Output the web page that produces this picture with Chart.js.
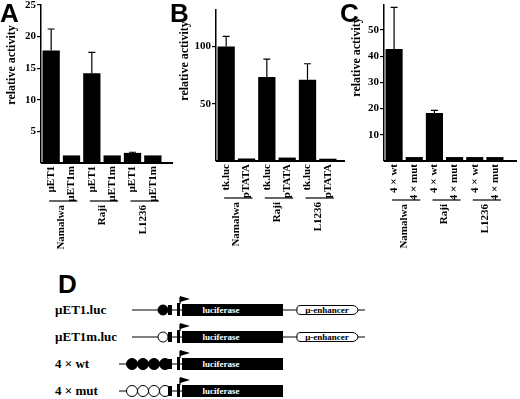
<!DOCTYPE html>
<html>
<head>
<meta charset="utf-8">
<script src="https://cdn.jsdelivr.net/npm/chart.js@4.4.0/dist/chart.umd.min.js"></script>
<style>
  body { margin: 0; background: #fff; }
  #wrap { position: relative; width: 520px; height: 399px; overflow: hidden; }
  canvas, svg { position: absolute; top: 0; }
</style>
</head>
<body>
<div id="wrap">
  <svg id="schema" width="520" height="399" style="left:0"></svg>
  <canvas id="chartA" width="175" height="250" style="left:0"></canvas>
  <canvas id="chartB" width="175" height="250" style="left:170px"></canvas>
  <canvas id="chartC" width="180" height="250" style="left:340px"></canvas>
</div>
<script>
// --- data ---
const cellLines = ['Namalwa', 'Raji', 'L1236'];

const labelsA = ['µET1', 'µET1m', 'µET1', 'µET1m', 'µET1', 'µET1m'];
const valuesA = [17.8, 1.2, 14.2, 1.2, 1.6, 1.2];
const errorsA = [21.2, null, 17.5, null, 1.7, null];
const ticksA = [5, 10, 15, 20, 25];

const labelsB = ['tk.luc', 'pTATA', 'tk.luc', 'pTATA', 'tk.luc', 'pTATA'];
const valuesB = [100, 2.2, 73.5, 3, 71, 2];
const errorsB = [109, null, 89, null, 85, null];
const ticksB = [50, 100];

const labelsC = ['4 × wt', '4 × mut', '4 × wt', '4 × mut', '4 × wt', '4 × mut'];
const valuesC = [42.7, 1.5, 18.3, 1.5, 1.5, 1.5];
const errorsC = [58.6, null, 19.3, null, null, null];
const ticksC = [10, 20, 30, 40, 50];

const constructs = ['µET1.luc', 'µET1m.luc', '4 × wt', '4 × mut'];

const serif = "'Liberation Serif', 'Times New Roman', serif";
const sans = "'Liberation Sans', Arial, sans-serif";

Chart.defaults.font.family = serif;
Chart.defaults.font.weight = 'bold';
Chart.defaults.font.size = 11;
Chart.defaults.color = '#000';

// error bars, baseline, cell line brackets, panel letter, axis title
function makeDecor(cfg) {
  return {
    id: 'decor',
    afterDatasetsDraw(chart) {
      const ctx = chart.ctx;
      const meta = chart.getDatasetMeta(0);
      const y = chart.scales.y;
      const area = chart.chartArea;
      ctx.save();
      ctx.strokeStyle = '#000';
      ctx.fillStyle = '#000';

      ctx.lineWidth = 1.2;
      cfg.errors.forEach((e, i) => {
        if (e == null) return;
        const bar = meta.data[i];
        const yTop = y.getPixelForValue(e);
        ctx.beginPath();
        ctx.moveTo(bar.x, bar.y);
        ctx.lineTo(bar.x, yTop);
        ctx.moveTo(bar.x - 3.5, yTop);
        ctx.lineTo(bar.x + 3.5, yTop);
        ctx.stroke();
      });

      const y0 = y.getPixelForValue(0);
      ctx.lineWidth = 2;
      ctx.beginPath();
      ctx.moveTo(area.left, y0);
      ctx.lineTo(area.right + cfg.baseExtra, y0);
      ctx.stroke();

      ctx.lineWidth = 1.2;
      ctx.font = `bold 11px ${serif}`;
      cellLines.forEach((name, g) => {
        const x0 = meta.data[g * 2].x - 2;
        const x1 = meta.data[g * 2 + 1].x + 6;
        ctx.beginPath();
        ctx.moveTo(x0, cfg.groupY);
        ctx.lineTo(x1, cfg.groupY);
        ctx.stroke();
        ctx.save();
        ctx.translate((x0 + x1) / 2 - 2, cfg.groupY + 4);
        ctx.rotate(-Math.PI / 2);
        ctx.textAlign = 'right';
        ctx.textBaseline = 'middle';
        ctx.fillText(name, 0, 0);
        ctx.restore();
      });

      ctx.font = `bold 26px ${sans}`;
      ctx.textAlign = 'left';
      ctx.textBaseline = 'alphabetic';
      ctx.fillText(cfg.letter, 0, 22);

      ctx.font = `bold 12px ${serif}`;
      ctx.translate(cfg.titleX, cfg.titleY);
      ctx.rotate(-Math.PI / 2);
      ctx.textAlign = 'center';
      ctx.textBaseline = 'middle';
      ctx.fillText('relative activity', 0, 0);
      ctx.restore();
    }
  };
}

function makeChart(id, labels, values, errors, ticks, ymax, yWidth, xHeight, pad, decor) {
  decor.errors = errors;
  return new Chart(document.getElementById(id), {
    type: 'bar',
    data: {
      labels: labels,
      datasets: [{ data: values, backgroundColor: '#000', barPercentage: 0.85, categoryPercentage: 1 }]
    },
    options: {
      responsive: false,
      animation: false,
      layout: { padding: pad },
      plugins: { legend: { display: false }, tooltip: { enabled: false } },
      scales: {
        x: {
          grid: { display: false, drawTicks: false },
          border: { display: false },
          ticks: { minRotation: 90, maxRotation: 90, padding: 3, autoSkip: false },
          afterFit: s => { s.height = xHeight; s.paddingLeft = 0; s.paddingRight = 0; }
        },
        y: {
          min: 0,
          max: ymax,
          grid: { display: true, drawOnChartArea: false, drawTicks: true, tickLength: 4, color: '#000', lineWidth: 1.2 },
          border: { display: true, color: '#000', width: 1.5 },
          ticks: { padding: 1 },
          afterBuildTicks: s => { s.ticks = ticks.map(v => ({ value: v })); },
          afterFit: s => { s.width = yWidth; s.paddingTop = 0; s.paddingBottom = 0; }
        }
      }
    },
    plugins: [makeDecor(decor)]
  });
}

makeChart('chartA', labelsA, valuesA, errorsA, ticksA, 25, 41, 87,
  { left: 0, top: 5, right: 12, bottom: 0 },
  { letter: 'A', groupY: 201, baseExtra: 10, titleX: 12, titleY: 65 });

makeChart('chartB', labelsB, valuesB, errorsB, ticksB, 132, 46, 89,
  { left: 0, top: 10, right: 7, bottom: 0 },
  { letter: 'B', groupY: 198, baseExtra: 10, titleX: 15, titleY: 61 });

makeChart('chartC', labelsC, valuesC, errorsC, ticksC, 59.5, 44, 89,
  { left: 0, top: 5, right: 15, bottom: 0 },
  { letter: 'C', groupY: 200, baseExtra: 12, titleX: 17, titleY: 57 });

// --- panel D: construct schematic ---
const svg = document.getElementById('schema');
let s = `<text x="58" y="293" font-family="${sans}" font-weight="bold" font-size="26">D</text>`;
constructs.forEach((name, i) => {
  const cy = 310 + i * 27;
  const single = i < 2;
  const filled = i % 2 === 0;
  s += `<text x="55" y="${cy + 4}" font-family="${serif}" font-weight="bold" font-size="13">${name}</text>`;
  const start = single ? 132 : 119;
  const end = single ? 365 : 283;
  s += `<line x1="${start}" y1="${cy}" x2="${end}" y2="${cy}" stroke="#000" stroke-width="1.2"/>`;
  const sites = single ? [163] : [132, 143, 154, 165];
  const r = single ? 5 : 5.5;
  sites.forEach(cx => {
    s += `<circle cx="${cx}" cy="${cy}" r="${r}" fill="${filled ? '#000' : '#fff'}" stroke="#000" stroke-width="1"/>`;
  });
  s += `<rect x="168" y="${cy - 5}" width="4" height="10" fill="#000"/>`;
  s += `<rect x="177" y="${cy - 7}" width="3" height="13" fill="#000"/>`;
  s += `<line x1="180" y1="${cy - 6}" x2="180" y2="${cy - 13}" stroke="#000" stroke-width="1.2"/>`;
  s += `<path d="M180 ${cy - 14} L190 ${cy - 11} L180 ${cy - 8} Z" fill="#000"/>`;
  s += `<rect x="182" y="${cy - 6}" width="101" height="12" fill="#000"/>`;
  s += `<text x="221" y="${cy + 3}" text-anchor="middle" fill="#fff" font-family="${serif}" font-weight="bold" font-size="9">luciferase</text>`;
  if (single) {
    s += `<path d="M301 ${cy - 4.5} L352 ${cy - 4.5} Q357 ${cy - 4.5} 358 ${cy} Q357 ${cy + 4.5} 352 ${cy + 4.5} L301 ${cy + 4.5} Q296 ${cy + 4.5} 297 ${cy} Q296 ${cy - 4.5} 301 ${cy - 4.5} Z" fill="#fff" stroke="#000" stroke-width="1"/>`;
    s += `<text x="327" y="${cy + 3}" text-anchor="middle" font-family="${serif}" font-weight="bold" font-size="9">µ-enhancer</text>`;
  }
});
svg.innerHTML = s;
</script>
</body>
</html>
